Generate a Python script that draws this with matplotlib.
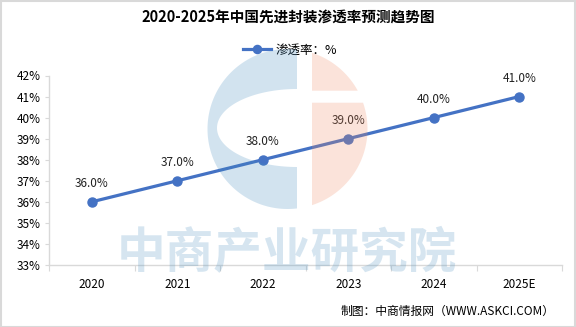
import numpy as np
import matplotlib
matplotlib.use("Agg")
import matplotlib.pyplot as plt
from matplotlib.patches import Polygon, Rectangle

plt.rcParams['font.family'] = ['Noto Sans CJK SC', 'DejaVu Sans']

# data
years = ["2020", "2021", "2022", "2023", "2024", "2025E"]
rate = [36.0, 37.0, 38.0, 39.0, 40.0, 41.0]
y_ticks = list(range(33, 43))

title = "2020-2025年中国先进封装渗透率预测趋势图"
legend_label = "渗透率：%"
source = "制图：中商情报网（WWW.ASKCI.COM）"
watermark = "中商产业研究院"

W, H = 576, 327
fig = plt.figure(figsize=(W / 100, H / 100), dpi=100)

ax = fig.add_axes([49 / W, 1 - 265 / H, (562 - 49) / W, (265 - 75.5) / H])
x = np.arange(len(years))
line, = ax.plot(x, rate, color="#4472C4", lw=2.3, marker="o", ms=6.5,
                label=legend_label, zorder=3)
for xi, v in zip(x, rate):
    ax.annotate(f"{v:.1f}%", (xi, v), xytext=(0, 13), textcoords="offset points",
                ha="center", va="center", fontsize=8.5, color="#222222")

ax.set_xlim(-0.5, len(years) - 0.5)
ax.set_ylim(y_ticks[0], y_ticks[-1])
ax.set_yticks(y_ticks)
ax.set_yticklabels([f"{t}%" for t in y_ticks])
ax.set_xticks(np.arange(-0.5, len(years)), labels=[])
ax.set_xticks(x, labels=years, minor=True)
ax.tick_params(axis="x", which="major", length=4, color="#d9d9d9", direction="out")
ax.tick_params(axis="x", which="minor", length=0, pad=9, labelsize=8.5)
ax.tick_params(axis="y", length=3, color="#d9d9d9", pad=3, labelsize=8.5)
for s in ["top", "right"]:
    ax.spines[s].set_visible(False)
for s in ["left", "bottom"]:
    ax.spines[s].set_color("#d9d9d9")
    ax.spines[s].set_linewidth(1.0)

fig.text(0.5, 1 - 17 / H, title, ha="center", va="center", fontsize=10.5,
         fontweight="bold")
fig.legend(handles=[line], loc="center", bbox_to_anchor=(290 / W, 1 - 50 / H),
           frameon=False, fontsize=9, handlelength=2.2, handletextpad=0.4,
           markerscale=0.9)
fig.text(555 / W, 1 - 311 / H, source, ha="right", va="center", fontsize=8.5)

# watermark overlay in pixel coordinates
ov = fig.add_axes([0, 0, 1, 1], zorder=10)
ov.set_xlim(0, W)
ov.set_ylim(H, 0)
ov.axis("off")
ov.patch.set_alpha(0)

cx, cy, r = 287.5, 129.0, 80.0
gap_l, gap_r = 297.0, 312.0

def circ_y(xv, sign):
    return cy + sign * np.sqrt(r ** 2 - (xv - cx) ** 2)

def circ_x(yv):
    return cx + np.sqrt(r ** 2 - (yv - cy) ** 2)

# blue "C" half: outer arc round the left side, then the inner half-ellipse back up
t_top = np.arctan2(circ_y(gap_l, -1) - cy, gap_l - cx)
t_bot = np.arctan2(circ_y(gap_l, 1) - cy, gap_l - cx)
tt = np.linspace(t_top, t_top - (2 * np.pi - (t_bot - t_top)), 120)
outer = np.column_stack([cx + r * np.cos(tt), cy + r * np.sin(tt)])
ea, eb, ecy = 80.0, 39.0, 128.0
te = np.linspace(np.pi / 2, 3 * np.pi / 2, 80)
inner = np.column_stack([gap_l + ea * np.cos(te), ecy + eb * np.sin(te)])
blue = np.vstack([outer, inner])
ov.add_patch(Polygon(blue, closed=True, facecolor=(0.27, 0.55, 0.75), alpha=0.24,
                     edgecolor="none"))

# peach half, split by a horizontal band
b1, b2 = 90.7, 102.7
ys = np.linspace(circ_y(gap_r, -1), b1, 40)
top_piece = np.vstack([[[gap_r, ys[0]]], np.column_stack([circ_x(ys), ys]), [[gap_r, b1]]])
ys = np.linspace(b2, circ_y(gap_r, 1), 100)
bot_piece = np.vstack([[[gap_r, b2]], np.column_stack([circ_x(ys), ys]), [[gap_r, ys[-1]]]])
for piece in (top_piece, bot_piece):
    ov.add_patch(Polygon(piece, closed=True, facecolor=(0.94, 0.55, 0.40), alpha=0.24,
                         edgecolor="none"))

ov.text(287, 254, watermark, ha="center", va="center", fontsize=35, fontweight="bold",
        color=(0.27, 0.55, 0.75), alpha=0.22)

# outer frame
fig.add_artist(Rectangle((0.5 / W, 0.5 / H), (W - 2) / W, (H - 1.5) / H,
                         transform=fig.transFigure, fill=False, edgecolor="#d9d9d9", lw=1.5))

fig.savefig("out.png", dpi=100)
